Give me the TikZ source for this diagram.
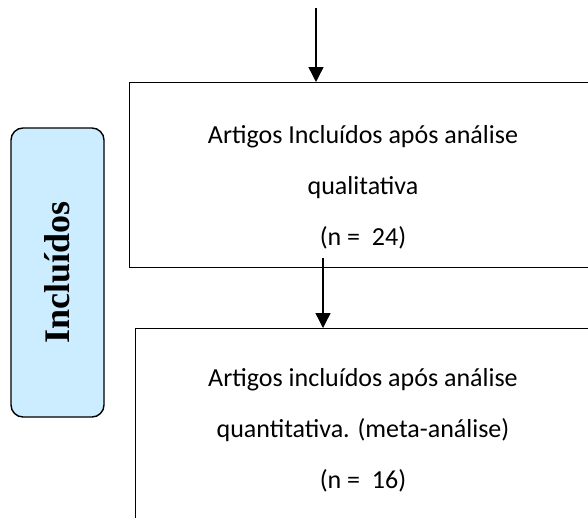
\documentclass[tikz,border=0pt]{standalone}
\usepackage{fontspec}
\setmainfont{Carlito}
\newfontfamily\serifbold{Liberation Serif}
\usetikzlibrary{arrows.meta}
\definecolor{lblue}{RGB}{204,236,255}
\begin{document}
\begin{tikzpicture}[x=1pt,y=-1pt,
  boxstyle/.style={draw, line width=1.4pt, inner sep=0pt},
  arr/.style={-{Triangle[width=15pt,length=15pt]}, line width=1.4pt},
  txt/.style={align=center, font=\fontsize{26}{51}\selectfont, inner sep=0pt},
  sidebox/.style={draw, line width=1.4pt, fill=lblue, rounded corners=12pt, inner sep=0pt,
    font=\serifbold\bfseries\fontsize{36}{40}\selectfont}]
\useasboundingbox (0,0) rectangle (588,517);
\clip (0,0) rectangle (588,517);
\node[boxstyle, anchor=north west, minimum width=480pt, minimum height=185pt] (b1) at (129,82) {};
\node[boxstyle, anchor=north west, minimum width=480pt, minimum height=210pt] (b2) at (135,328) {};
\node[sidebox, rotate=90, minimum width=289pt, minimum height=93pt] (inc) at (57.5,272.5) {Incluídos};
\node[txt] (t1) at (363,187) {Artigos Incluídos após análise\\qualitativa\\(n =\ \ 24)};
\node[txt] (t2) at (363,430) {Artigos incluídos após análise\\quantitativa. (meta-análise)\\(n =\ \ 16)};
\coordinate (s1) at (316,8);
\coordinate (s2) at (323,258);
\draw[arr] (s1) -- (s1 |- b1.north);
\draw[arr] (s2) -- (s2 |- b2.north);
\end{tikzpicture}
\end{document}
